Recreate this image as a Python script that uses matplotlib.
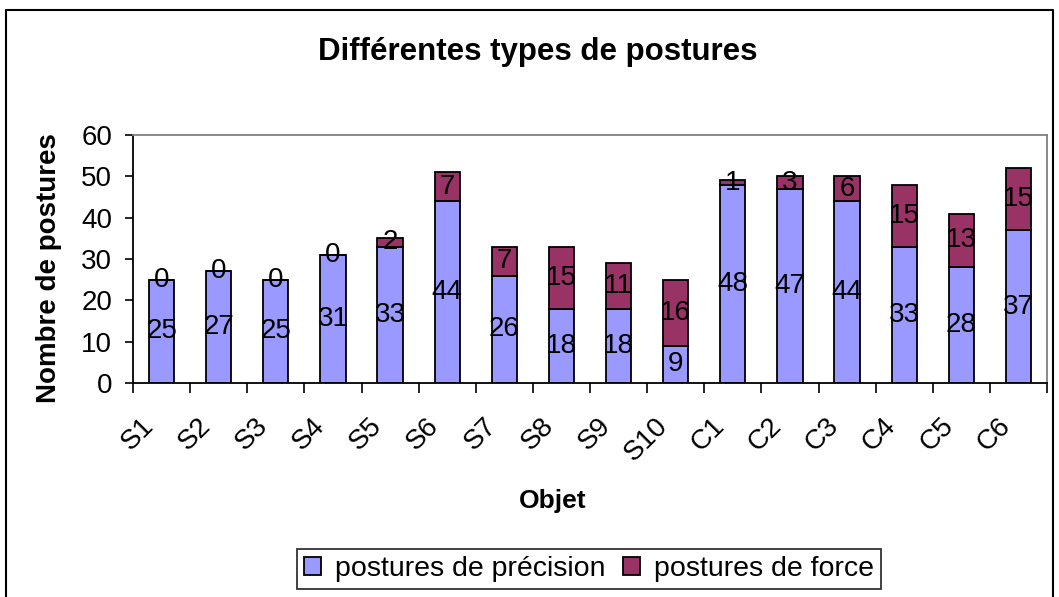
import matplotlib.pyplot as plt
import matplotlib.transforms as mtransforms
import numpy as np

plt.rcParams['font.family'] = ['Liberation Sans', 'DejaVu Sans']

objets = ["S1", "S2", "S3", "S4", "S5", "S6", "S7", "S8", "S9", "S10",
          "C1", "C2", "C3", "C4", "C5", "C6"]
precision = [25, 27, 25, 31, 33, 44, 26, 18, 18, 9, 48, 47, 44, 33, 28, 37]
force = [0, 0, 0, 0, 2, 7, 7, 15, 11, 16, 1, 3, 6, 15, 13, 15]

blue = "#9999FF"
maroon = "#993366"
W, H = 1059, 597

fig = plt.figure(figsize=(W / 100, H / 100), dpi=100)
ax = fig.add_axes([133 / W, 1 - 383 / H, (1047 - 133) / W, (383 - 135) / H])

x = np.arange(len(objets))
b1 = ax.bar(x, precision, 0.44, color=blue, edgecolor="black", linewidth=1.3,
            label="postures de précision")
b2 = ax.bar(x, force, 0.44, bottom=precision, color=maroon, edgecolor="black",
            linewidth=1.3, label="postures de force")

for i in range(len(objets)):
    ax.text(x[i], precision[i] / 2, str(precision[i]), ha="center", va="center",
            fontsize=20)
    ax.text(x[i], precision[i] + force[i] / 2, str(force[i]), ha="center",
            va="center", fontsize=20)

ax.set_xlim(-0.5, len(objets) - 0.5)
ax.set_ylim(0, 60)
ax.set_yticks(range(0, 61, 10))
ax.tick_params(axis="y", labelsize=20, direction="out", length=6, width=1.2, pad=9)
ax.set_xticks(np.arange(-0.5, len(objets), 1))
ax.set_xticklabels([])
ax.set_xticks(x, minor=True)
ax.set_xticklabels(objets, minor=True, rotation=45, fontsize=20,
                   ha="right", va="center", rotation_mode="anchor")
ax.tick_params(axis="x", which="major", direction="out", length=7, width=1.2)
ax.tick_params(axis="x", which="minor", length=0, pad=28)
shift = mtransforms.ScaledTranslation(-12 / 100, 0, fig.dpi_scale_trans)
for lab in ax.get_xticklabels(minor=True):
    lab.set_transform(lab.get_transform() + shift)

for s in ["left", "bottom"]:
    ax.spines[s].set_color("black")
    ax.spines[s].set_linewidth(1.3)
for s in ["top", "right"]:
    ax.spines[s].set_color("#808080")
    ax.spines[s].set_linewidth(1.3)

ax.set_ylabel("Nombre de postures", fontsize=20, fontweight="bold")
ax.yaxis.set_label_coords((62 - 133) / 914, 0.465)
ax.set_xlabel("Objet", fontsize=19, fontweight="bold")
ax.xaxis.set_label_coords((553 - 133) / 914, (383 - 489) / 248)
fig.text(538 / W, 1 - 52 / H, "Différentes types de postures",
         ha="center", va="center", fontsize=22.5, fontweight="bold")

leg = fig.legend(handles=[b1, b2], loc="center", bbox_to_anchor=(589 / W, 1 - 569 / H),
                 ncol=2, fontsize=20.5, frameon=True, fancybox=False,
                 edgecolor="black", handlelength=0.6, handleheight=0.6,
                 handletextpad=0.5, columnspacing=0.6, borderpad=0.25,
                 borderaxespad=0)
leg.get_frame().set_linewidth(1.3)

# chart area border (bottom edge falls outside the image)
fig.add_artist(plt.Line2D([6 / W, 6 / W, 1053 / W, 1053 / W], [0, 1 - 10 / H, 1 - 10 / H, 0],
                          transform=fig.transFigure, color="black", linewidth=1.5))

fig.savefig("out.png", dpi=100)
